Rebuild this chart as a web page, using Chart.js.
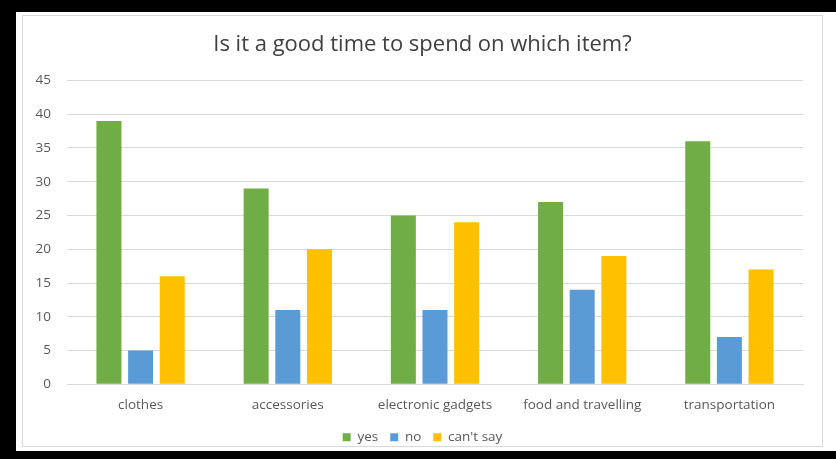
<!DOCTYPE html>
<html>
<head>
<meta charset="utf-8">
<script src="https://cdn.jsdelivr.net/npm/chart.js@4.4.1/dist/chart.umd.min.js"></script>
<style>
  html, body { margin: 0; padding: 0; background: #000; }
  #page { position: relative; width: 836px; height: 459px; overflow: hidden; }
  #sheet { position: absolute; left: 16px; top: 12px; width: 820px; height: 439px; background: #fff; }
  #frame { position: absolute; left: 22px; top: 15px; width: 801px; height: 432px; border: 1px solid #d9d9d9; box-sizing: border-box; }
  #chart { position: absolute; left: 0; top: 0; }
</style>
</head>
<body>
<div id="page">
  <div id="sheet"></div>
  <div id="frame"></div>
  <canvas id="chart" width="836" height="459"></canvas>
</div>
<script>
// chart data
var categories = ["clothes", "accessories", "electronic gadgets", "food and travelling", "transportation"];
var yesValues = [39, 29, 25, 27, 36];
var noValues = [5, 11, 11, 14, 7];
var cantSayValues = [16, 20, 24, 19, 17];
var seriesNames = ["yes", "no", "can't say"];
var yTicks = [0, 5, 10, 15, 20, 25, 30, 35, 40, 45];

var FONT = "'Open Sans', 'Noto Sans', sans-serif";

new Chart(document.getElementById("chart"), {
    type: "bar",
    data: {
        labels: categories,
        datasets: [
            { label: seriesNames[0], data: yesValues, backgroundColor: "#70ad47" },
            { label: seriesNames[1], data: noValues, backgroundColor: "#5b9bd5" },
            { label: seriesNames[2], data: cantSayValues, backgroundColor: "#ffc000" }
        ]
    },
    options: {
        responsive: false,
        animation: false,
        devicePixelRatio: 1,
        categoryPercentage: 0.645,
        barPercentage: 0.79,
        layout: { padding: { left: 22, right: 13, top: 16, bottom: 5 } },
        plugins: {
            title: {
                display: true,
                text: "Is it a good time to spend on which item?",
                color: "#404040",
                font: { family: FONT, size: 22, weight: "normal" },
                padding: { top: 16, bottom: 22 }
            },
            legend: {
                position: "bottom",
                labels: {
                    color: "#595959",
                    font: { family: FONT, size: 13.5 },
                    boxWidth: 8,
                    boxHeight: 8,
                    padding: 12
                }
            },
            tooltip: { enabled: false }
        },
        scales: {
            x: {
                grid: { display: false },
                border: { color: "#d9d9d9" },
                ticks: { color: "#595959", font: { family: FONT, size: 13.5 }, padding: 5, maxRotation: 0 }
            },
            y: {
                min: 0,
                max: 45,
                afterBuildTicks: function (scale) {
                    scale.ticks = yTicks.map(function (v) { return { value: v }; });
                },
                afterFit: function (scale) { scale.width = 45; },
                grid: { color: "#d9d9d9", drawTicks: false },
                border: { display: false },
                ticks: { color: "#595959", font: { family: FONT, size: 13.5 }, padding: 16 }
            },
            // empty right-hand gutter so the plot ends where the reference does
            gutter: {
                type: "linear",
                position: "right",
                display: true,
                grid: { display: false },
                border: { display: false },
                ticks: { display: false },
                afterFit: function (scale) { scale.width = 20; }
            }
        }
    }
});
</script>
</body>
</html>
